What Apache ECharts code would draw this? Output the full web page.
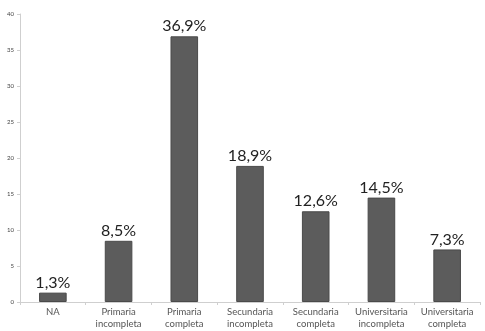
<!DOCTYPE html>
<html>
<head>
<meta charset="utf-8">
<script src="https://cdn.jsdelivr.net/npm/echarts@6/dist/echarts.min.js"></script>
<style>
html, body { margin: 0; padding: 0; background: #fff; }
#chart { width: 485px; height: 331px; }
</style>
</head>
<body>
<div id="chart"></div>
<script>
var categories = ['NA', 'Primaria\nincompleta', 'Primaria\ncompleta', 'Secundaria\nincompleta', 'Secundaria\ncompleta', 'Universitaria\nincompleta', 'Universitaria\ncompleta'];
var values = [1.3, 8.5, 36.9, 18.9, 12.6, 14.5, 7.3];
var yTicks = [0, 5, 10, 15, 20, 25, 30, 35, 40];

var option = {
    animation: false,
    grid: {
        left: 20,
        right: 5,
        top: 14,
        bottom: 29
    },
    xAxis: {
        type: 'category',
        data: categories,
        axisLine: { lineStyle: { color: '#cfcfcf' } },
        axisTick: { show: true, length: 3, lineStyle: { color: '#cfcfcf' } },
        axisLabel: {
            color: '#555',
            fontFamily: 'Lato',
            fontSize: 9.5,
            lineHeight: 12,
            margin: 4,
            interval: 0
        }
    },
    yAxis: {
        type: 'value',
        min: yTicks[0],
        max: yTicks[yTicks.length - 1],
        interval: 5,
        splitLine: { show: false },
        axisLine: { show: true, lineStyle: { color: '#cfcfcf' } },
        axisTick: { show: true, length: 3, lineStyle: { color: '#cfcfcf' } },
        axisLabel: {
            color: '#444',
            fontFamily: 'Lato',
            fontSize: 6,
            margin: 6
        }
    },
    series: [
        {
            type: 'bar',
            data: values,
            barWidth: '42%',
            itemStyle: {
                color: '#5c5c5c',
                borderColor: '#4a4a4a',
                borderWidth: 1
            },
            label: {
                show: true,
                position: 'top',
                distance: 2,
                color: '#222',
                fontFamily: 'Lato',
                fontSize: 16,
                formatter: function (p) {
                    return p.value.toFixed(1).replace('.', ',') + '%';
                }
            }
        }
    ]
};

var chart = echarts.init(document.getElementById('chart'));
chart.setOption(option);
</script>
</body>
</html>
